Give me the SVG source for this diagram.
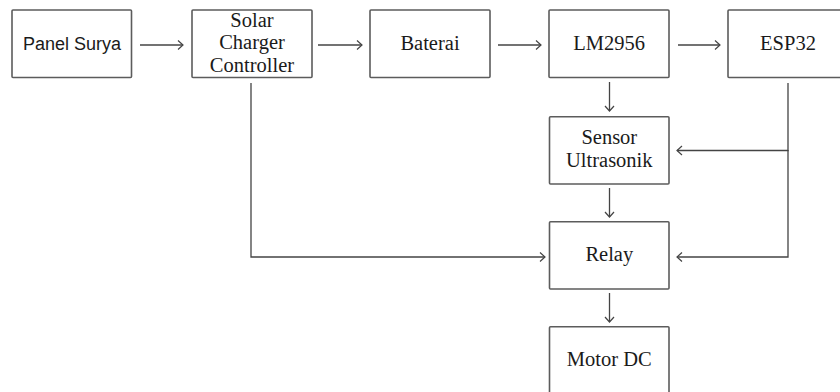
<svg xmlns="http://www.w3.org/2000/svg" width="840" height="392" viewBox="0 0 840 392">
<style>
.box{fill:#fff;stroke:#5c5c5c;stroke-width:1.6}
.t{font-size:20.5px;fill:#1a1a1a;text-anchor:middle}
.s{font-size:18px;fill:#1a1a1a;text-anchor:middle}
.c{fill:none;stroke:#444;stroke-width:1.3}
</style>
<defs>
<marker id="arr" markerUnits="userSpaceOnUse" markerWidth="12" markerHeight="12" viewBox="-7 -6 9 12" refX="0" refY="0" orient="auto">
<path d="M-5,-4.5 L0,0 L-5,4.5" fill="none" stroke="#444" stroke-width="1.2"/>
</marker>
</defs>
<rect width="840" height="392" fill="#fff"/>
<g id="connectors">
<path class="c" d="M140 45 H183" marker-end="url(#arr)"/>
<path class="c" d="M318 45 H362" marker-end="url(#arr)"/>
<path class="c" d="M498 45 H541" marker-end="url(#arr)"/>
<path class="c" d="M678 45 H720" marker-end="url(#arr)"/>
<path class="c" d="M609.5 82 V111" marker-end="url(#arr)"/>
<path class="c" d="M609.5 188 V217" marker-end="url(#arr)"/>
<path class="c" d="M609.5 293 V322" marker-end="url(#arr)"/>
<path class="c" d="M251 83 V257 H545" marker-end="url(#arr)"/>
<path class="c" d="M788 83 V150.5 H677" marker-end="url(#arr)"/>
<path class="c" d="M788 150 V257 H677" marker-end="url(#arr)"/>
</g>
<g id="panel-surya">
<rect class="box" x="12" y="10" width="119.5" height="67.5" rx="1"/>
<text class="s" font-family="Liberation Sans, Arial, sans-serif" x="72" y="50">Panel Surya</text>
</g>
<g id="solar-charger-controller" font-family="Liberation Serif, Times New Roman, serif">
<rect class="box" x="192" y="10" width="120" height="67.5" rx="1"/>
<text class="t" x="252" y="26.5">Solar</text>
<text class="t" x="252" y="49.3">Charger</text>
<text class="t" x="252" y="71.8">Controller</text>
</g>
<g id="baterai" font-family="Liberation Serif, Times New Roman, serif">
<rect class="box" x="370" y="10" width="120" height="67.5" rx="1"/>
<text class="t" x="430" y="50">Baterai</text>
</g>
<g id="lm2956" font-family="Liberation Serif, Times New Roman, serif">
<rect class="box" x="549" y="10" width="120" height="67.5" rx="1"/>
<text class="t" x="609" y="49.5">LM2956</text>
</g>
<g id="esp32" font-family="Liberation Serif, Times New Roman, serif">
<rect class="box" x="728" y="10" width="120" height="67.5" rx="1"/>
<text class="t" x="788" y="49.5">ESP32</text>
</g>
<g id="sensor-ultrasonik" font-family="Liberation Serif, Times New Roman, serif">
<rect class="box" x="549.5" y="116.7" width="119.5" height="67.3" rx="1"/>
<text class="t" x="609.3" y="144">Sensor</text>
<text class="t" x="609.3" y="166.7">Ultrasonik</text>
</g>
<g id="relay" font-family="Liberation Serif, Times New Roman, serif">
<rect class="box" x="549.5" y="221.7" width="119.5" height="67.3" rx="1"/>
<text class="t" x="609.3" y="260.7">Relay</text>
</g>
<g id="motor-dc" font-family="Liberation Serif, Times New Roman, serif">
<rect class="box" x="549.5" y="326.7" width="119.5" height="67.3" rx="1"/>
<text class="t" x="609.3" y="365.7">Motor DC</text>
</g>
</svg>
